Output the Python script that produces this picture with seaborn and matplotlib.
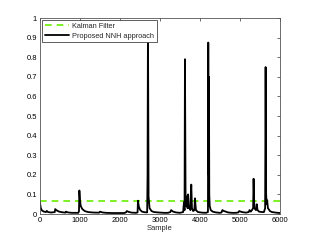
import numpy as np
import pandas as pd
import matplotlib
matplotlib.use('Agg')
import matplotlib.pyplot as plt
import seaborn as sns

# Error per sample
sample = [0, 5, 20, 50, 100, 150, 170, 200, 260, 300, 370, 380, 420, 480, 550,
          640, 650, 700, 800, 900, 960, 975, 985, 1000, 1020, 1060, 1120, 1200,
          1300, 1400, 1480, 1500, 1560, 1650, 1800, 1950, 2100, 2150, 2170, 2230,
          2300, 2400, 2440, 2450, 2470, 2500, 2550, 2620, 2680, 2690, 2700, 2715,
          2740, 2790, 2850, 2950, 3100, 3200, 3260, 3280, 3330, 3400, 3500, 3580,
          3600, 3615, 3625, 3640, 3660, 3680, 3690, 3705, 3720, 3740, 3760, 3783,
          3800, 3830, 3860, 3875, 3900, 3950, 4050, 4150, 4200, 4208, 4218, 4225,
          4233, 4245, 4270, 4320, 4400, 4500, 4540, 4560, 4600, 4650, 4700, 4800,
          4900, 4960, 4980, 5050, 5150, 5220, 5240, 5270, 5300, 5330, 5341, 5360,
          5400, 5420, 5440, 5480, 5550, 5600, 5630, 5642, 5655, 5670, 5680, 5700,
          5750, 5800, 5900, 6000]
nnh_error = [0.06, 0.05, 0.03, 0.018, 0.012, 0.01, 0.016, 0.01, 0.008, 0.008,
             0.01, 0.025, 0.018, 0.012, 0.009, 0.007, 0.012, 0.008, 0.006, 0.006,
             0.006, 0.015, 0.12, 0.07, 0.04, 0.025, 0.015, 0.01, 0.008, 0.007,
             0.007, 0.012, 0.008, 0.006, 0.005, 0.005, 0.005, 0.008, 0.015, 0.01,
             0.007, 0.006, 0.008, 0.068, 0.04, 0.022, 0.012, 0.009, 0.008, 0.2,
             0.98, 0.09, 0.03, 0.015, 0.01, 0.008, 0.006, 0.006, 0.01, 0.02, 0.012,
             0.008, 0.006, 0.01, 0.06, 0.02, 0.79, 0.1, 0.04, 0.09, 0.03, 0.1,
             0.03, 0.04, 0.02, 0.15, 0.03, 0.015, 0.02, 0.08, 0.02, 0.01, 0.007,
             0.006, 0.01, 0.875, 0.2, 0.7, 0.1, 0.04, 0.02, 0.012, 0.008, 0.006,
             0.008, 0.02, 0.015, 0.012, 0.008, 0.006, 0.006, 0.008, 0.015, 0.01,
             0.007, 0.01, 0.02, 0.012, 0.02, 0.03, 0.18, 0.03, 0.02, 0.05, 0.02,
             0.012, 0.01, 0.01, 0.03, 0.75, 0.1, 0.05, 0.07, 0.03, 0.015, 0.01,
             0.007, 0.005]
kalman_error = 0.068
x_range = [0, 6000]

df = pd.DataFrame({'Sample': sample, 'Error': nnh_error})
kf = pd.DataFrame({'Sample': x_range, 'Error': [kalman_error] * 2})

sns.set_style('white')
plt.rcParams['font.family'] = ['Liberation Sans', 'DejaVu Sans']

fig = plt.figure(figsize=(3.10, 2.41), dpi=100)
ax = fig.add_axes([0.129, 0.112, 0.774, 0.813])

sns.lineplot(data=kf, x='Sample', y='Error', ax=ax, color='#66ee00',
             linestyle=(0, (4, 3)), linewidth=1.2, label='Kalman Filter')
sns.lineplot(data=df, x='Sample', y='Error', ax=ax, color='black',
             linewidth=1.3, label='Proposed NNH approach')

ax.set_xlim(0, 6000)
ax.set_ylim(0, 1)
ax.set_xticks(np.arange(0, 6001, 1000))
ax.set_yticks(np.arange(0, 1.01, 0.1))
ax.set_yticklabels(['0', '0.1', '0.2', '0.3', '0.4', '0.5', '0.6', '0.7', '0.8', '0.9', '1'])
ax.set_xlabel('Sample', fontsize=5.5, labelpad=1)
ax.set_ylabel('')
ax.tick_params(direction='in', length=2, width=0.5, labelsize=5.5, pad=2,
               top=True, right=True, colors='#333333', labelcolor='black')
for s in ax.spines.values():
    s.set_linewidth(0.6)
    s.set_color('#555555')

leg = ax.legend(loc='upper left', fontsize=5.3, frameon=True, fancybox=False,
                handlelength=3.3, borderpad=0.35, labelspacing=0.35,
                handletextpad=0.4, borderaxespad=0.3)
leg.get_frame().set_edgecolor('#444444')
leg.get_frame().set_linewidth(0.6)
leg.get_frame().set_alpha(1)

fig.savefig('out.png', dpi=100)
plt.close(fig)
